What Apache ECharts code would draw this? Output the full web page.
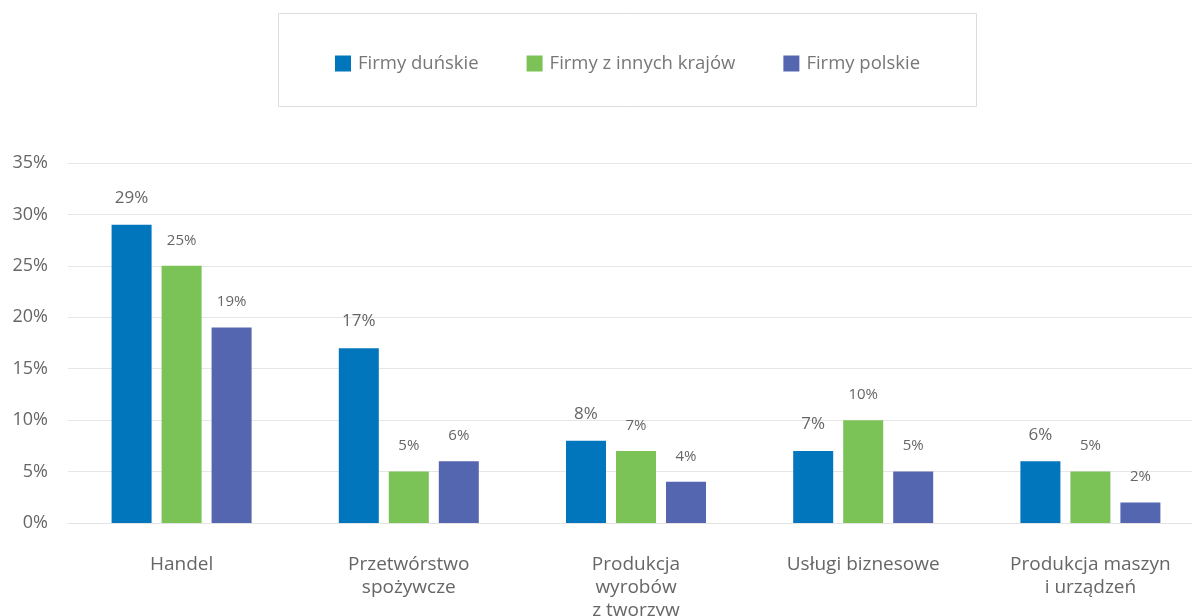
<!DOCTYPE html>
<html>
<head>
<meta charset="utf-8">
<script src="https://cdn.jsdelivr.net/npm/echarts@6/dist/echarts.min.js"></script>
<style>
  html, body { margin: 0; padding: 0; background: #fff; }
  #chart { width: 1192px; height: 616px; }
</style>
</head>
<body>
<div id="chart"></div>
<script>
// kategorie i wartości (%)
const categories = [
  'Handel',
  'Przetwórstwo\nspożywcze',
  'Produkcja\nwyrobów\nz tworzyw',
  'Usługi biznesowe',
  'Produkcja maszyn\ni urządzeń'
];
const seriesNames = ['Firmy duńskie', 'Firmy z innych krajów', 'Firmy polskie'];
const dunskie = [29, 17, 8, 7, 6];
const inne = [25, 5, 7, 10, 5];
const polskie = [19, 6, 4, 5, 2];
const yTicks = [0, 5, 10, 15, 20, 25, 30, 35];

const colors = ['#0176bd', '#7bc257', '#5566b1'];
const labelSizes = [17, 15, 15];
const font = '"Open Sans", sans-serif';

const myChart = echarts.init(document.getElementById('chart'));

const makeSeries = (name, data, i) => ({
  name: name,
  type: 'bar',
  data: data,
  barWidth: 40,
  barGap: '25%',
  itemStyle: { color: colors[i] },
  label: {
    show: true,
    position: 'top',
    distance: 18,
    color: '#666',
    fontFamily: font,
    fontSize: labelSizes[i],
    formatter: (p) => p.value + '%'
  }
});

const option = {
  animation: false,
  textStyle: { fontFamily: font },
  graphic: [{
    type: 'rect',
    shape: { x: 278.5, y: 13.5, width: 698, height: 93 },
    style: { fill: 'none', stroke: '#dcdcdc', lineWidth: 1 }
  }],
  legend: {
    left: 330,
    top: 49,
    itemWidth: 16,
    itemHeight: 16,
    itemGap: 48,
    icon: 'rect',
    textStyle: {
      color: '#777',
      fontSize: 18.5,
      lineHeight: 16,
      padding: [0, 0, 0, 2],
      fontFamily: font
    },
    data: seriesNames
  },
  grid: {
    left: 68,
    right: -12,
    top: 163,
    bottom: 93,
    outerBoundsMode: 'none',
    containLabel: false
  },
  xAxis: {
    type: 'category',
    data: categories,
    axisLine: { lineStyle: { color: '#e3e3e3' } },
    axisTick: { show: false },
    axisLabel: {
      color: '#666',
      fontSize: 19,
      fontFamily: font,
      lineHeight: 23,
      margin: 30,
      interval: 0
    }
  },
  yAxis: {
    type: 'value',
    min: yTicks[0],
    max: yTicks[yTicks.length - 1],
    interval: 5,
    axisLine: { show: false },
    axisTick: { show: false },
    splitLine: { lineStyle: { color: '#e6e6e6' } },
    axisLabel: {
      color: '#666',
      fontSize: 18,
      fontFamily: font,
      margin: 20,
      formatter: (v) => v + '%'
    }
  },
  series: [
    makeSeries(seriesNames[0], dunskie, 0),
    makeSeries(seriesNames[1], inne, 1),
    makeSeries(seriesNames[2], polskie, 2)
  ]
};

option && myChart.setOption(option);
</script>
</body>
</html>
